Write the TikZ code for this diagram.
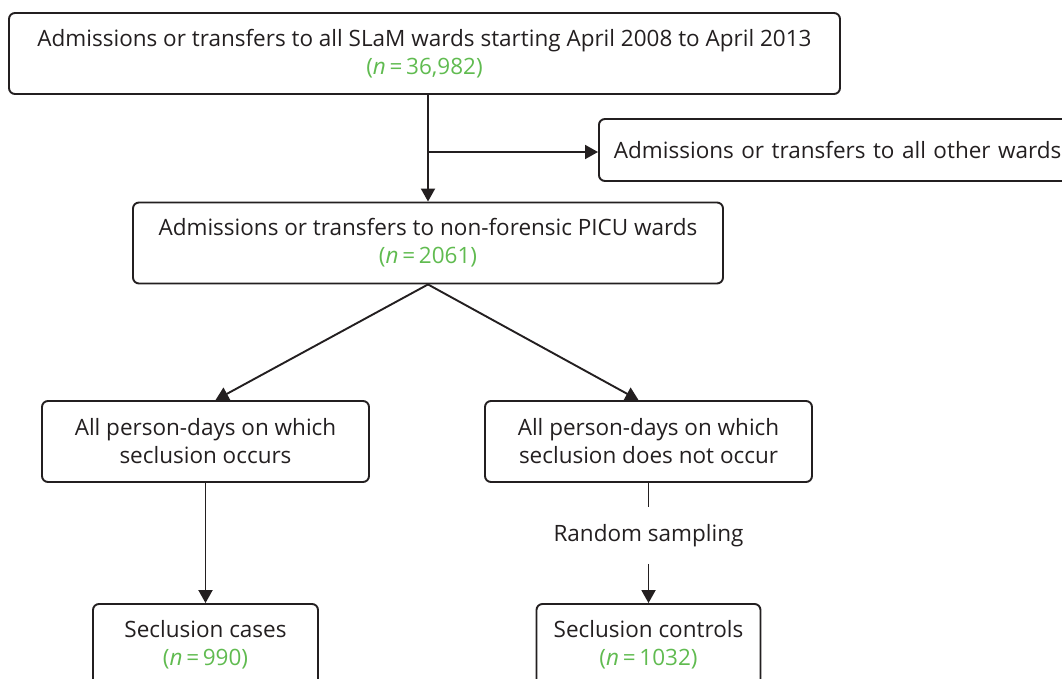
\documentclass[tikz,border=0pt]{standalone}
\usepackage{fontspec}
\setmainfont{Open Sans}
\usetikzlibrary{arrows.meta}
\definecolor{ngreen}{RGB}{96,187,80}
\definecolor{ink}{RGB}{35,31,32}
\newcommand{\nval}[1]{\textcolor{ngreen}{(\textit{n}\,=\,#1)}}
\begin{document}
\begin{tikzpicture}[x=1pt, y=-1pt, line width=1.9pt, color=ink,
  txt/.style={font=\fontsize{22.5}{28}\selectfont},
  box/.style={txt, draw, rounded corners=6pt, align=center, minimum height=81pt, inner sep=0pt},
  arr/.style={-{Triangle[length=13pt,width=14pt]}}]
\useasboundingbox (0,0) rectangle (1062,679);
\clip (0,0) rectangle (1062,679);

\node [box, minimum width=831pt] (all) at (424.5,53.5)
  {Admissions or transfers to all SLaM wards starting April 2008 to April 2013\\\nval{36,982}};
\node [box, anchor=west, minimum height=62pt, align=left, text width=450pt, inner xsep=15pt] (other) at (598,150)
  {Admissions or transfers to all other wards};
\node [box, minimum width=590pt] (picu) at (428,243)
  {Admissions or transfers to non-forensic PICU wards\\\nval{2061}};
\node [box, minimum width=327pt] (persA) at (205.5,441.5)
  {All person-days on which\\seclusion occurs};
\node [box, minimum width=327pt] (persB) at (648.5,441.5)
  {All person-days on which\\seclusion does not occur};
\node [txt, minimum height=55pt, inner sep=0pt] (rs) at (648.5,535.5) {Random sampling};
\node [box, minimum width=225pt] (cases) at (205.5,644.5)
  {Seclusion cases\\\nval{990}};
\node [box, minimum width=224pt] (ctrl) at (648.5,644.5)
  {Seclusion controls\\\nval{1032}};

\coordinate (br) at (428,152);
\draw [arr] (all.south -| picu.north) -- (picu.north);
\draw [arr] (br) -- (br -| other.west);
\draw [arr] (picu.south) -- ([xshift=10pt]persA.north);
\draw [arr] (picu.south) -- ([xshift=-10pt]persB.north);
\draw [arr] (persA.south) -- (cases.north);
\draw (persB.south) -- (rs.north);
\draw [arr] (rs.south) -- (ctrl.north);
\end{tikzpicture}
\end{document}
